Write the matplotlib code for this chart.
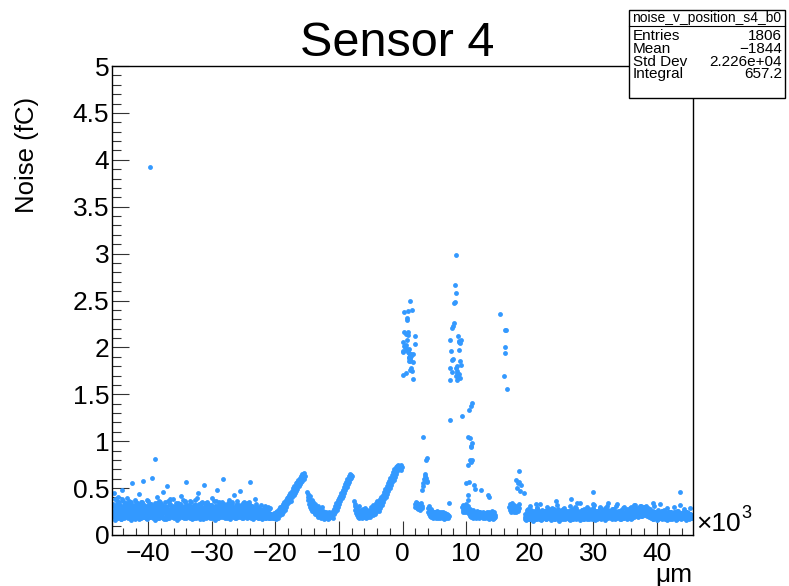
import numpy as np
import matplotlib
matplotlib.use('Agg')
import matplotlib.pyplot as plt
from matplotlib.ticker import MultipleLocator, FuncFormatter
from matplotlib.patches import Rectangle

plt.rcParams['font.family'] = ['Liberation Sans', 'DejaVu Sans']

# scan stretches: (start, end) in 10^3 um, noise in units of 0.01 fC
flat_left_range = (-45.6, -20.1)
flat_left = [33, 21, 45, 26, 16, 38, 24, 29, 22, 41, 18, 27, 35, 20, 31, 28, 17, 25, 48, 22, 36, 18, 26, 33, 21, 30, 39, 19, 22, 27,
             20, 36, 24, 16, 29, 32, 55, 26, 19, 23, 31, 21, 17, 28, 35, 34, 20, 27, 19, 44, 27, 23, 18, 30, 21, 34, 58, 22, 19, 24,
             29, 20, 25, 17, 37, 23, 31, 28, 19, 33, 22, 26, 61, 24, 18, 30, 31, 27, 22, 16, 25, 40, 21, 33, 18, 29, 20, 35, 24, 19,
             22, 27, 18, 46, 25, 30, 31, 23, 17, 28, 21, 52, 24, 18, 36, 33, 20, 22, 29, 19, 24, 38, 21, 18, 27, 23, 30, 20, 25, 16,
             34, 21, 26, 18, 23, 29, 20, 42, 24, 19, 37, 22, 18, 31, 25, 20, 57, 23, 19, 28, 32, 26, 36, 18, 24, 22, 30, 17, 27, 20,
             23, 18, 32, 25, 20, 28, 39, 19, 45, 24, 21, 27, 17, 33, 23, 20, 26, 19, 53, 22, 29, 34, 18, 21, 35, 26, 20, 23, 19, 30,
             25, 20, 32, 39, 18, 27, 24, 21, 16, 31, 23, 36, 20, 48, 22, 18, 29, 24, 31, 34, 19, 25, 22, 60, 20, 27, 33, 18, 32, 21,
             26, 19, 24, 22, 37, 20, 28, 17, 23, 30, 21, 35, 19, 43, 22, 27, 20, 24, 18, 33, 26, 21, 19, 29, 23, 47, 20, 32, 18, 25,
             28, 21, 19, 35, 24, 20, 26, 22, 18, 31, 25, 20, 33, 57, 19, 27, 22, 24, 17, 30, 21, 26, 20, 38, 23, 19, 25, 21, 18, 28,
             22, 20, 26, 19, 24, 21, 17, 27, 20, 23, 19, 25, 18, 22, 20, 24, 19, 21, 18, 23, 20, 19, 22, 18, 21, 20, 19, 23, 18, 20]

flat_left_b_range = (-45.5, -20.3)
flat_left_b = [24, 19, 30, 22, 27, 18, 33, 21, 25, 29, 20, 26, 17, 31, 23, 28, 19, 34, 22, 26, 20, 29, 18, 24, 32, 21, 27, 19, 23, 30,
               18, 25, 21, 28, 33, 19, 24, 22, 30, 17, 26, 23, 35, 20, 27, 19, 24, 31, 22, 18, 28, 25, 20, 33, 23, 19, 26, 29, 21, 24,
               30, 20, 23, 27, 19, 34, 22, 25, 18, 29, 21, 26, 32, 20, 24, 17, 28, 23, 30, 19, 25, 22, 36, 18, 27, 21, 24, 29, 20, 26,
               22, 28, 19, 25, 31, 21, 24, 18, 27, 23, 33, 20, 26, 19, 29, 22, 25, 35, 18, 24, 21, 28, 20, 31, 23, 19, 26, 22, 30, 18,
               27, 21, 25, 18, 32, 24, 20, 29, 23, 26, 19, 34, 22, 28, 17, 25, 21, 30, 24, 19, 27, 22, 33, 20, 26, 18, 29, 23, 21, 25,
               19, 26, 23, 30, 20, 24, 28, 18, 35, 22, 25, 21, 29, 19, 27, 24, 31, 20, 23, 18, 26, 32, 21, 24, 19, 28, 22, 25, 20, 30,
               24, 18, 29, 21, 26, 33, 20, 23, 27, 19, 25, 22, 30, 18, 24, 28, 21, 26, 20, 34, 23, 19, 27, 22, 25, 18, 31, 21, 24, 20,
               21, 25, 19, 28, 23, 20, 26, 22, 18, 24, 21, 27, 19, 23, 20, 25, 18, 22, 24, 19, 21, 23, 20, 18, 22, 19, 21, 20, 18, 19]

flat_left_c_range = (-45.4, -20.8)
flat_left_c = [31, 27, 36, 29, 33, 28, 38, 30, 26, 34, 29, 32, 27, 35, 30, 28, 37, 31, 26, 33, 29, 35, 28, 32, 27, 30, 36, 29, 33, 28,
               30, 34, 27, 31, 36, 28, 33, 29, 26, 35, 30, 27, 32, 38, 29, 31, 28, 34, 27, 30, 33, 26, 31, 29, 36, 28, 32, 27, 30, 35,
               28, 32, 37, 29, 26, 33, 30, 35, 27, 31, 28, 34, 29, 26, 32, 30, 36, 27, 31, 29, 33, 28, 35, 30, 27, 32, 29, 34, 28, 31,
               33, 29, 27, 31, 36, 28, 30, 26, 34, 29, 32, 27, 30, 35, 28, 31, 26, 29, 33, 27, 30, 28, 32, 26, 29, 31, 27, 30, 28, 29]

rise_a_range = (-20.0, -15.4)
rise_a = [21, 17, 24, 19, 26, 22, 18, 25, 23, 28, 21, 26, 30, 24, 27, 22, 31, 28, 25, 33, 29, 35, 27, 32, 37, 30, 34, 39, 33, 36,
          41, 35, 38, 43, 37, 45, 40, 36, 44, 47, 41, 46, 50, 43, 48, 52, 45, 50, 55, 47, 53, 57, 49, 55, 59, 52, 57, 61, 54, 60,
          63, 56, 62, 65, 58, 64, 61, 66, 60, 63]

dip_a_range = (-15.0, -11.3)
dip_a = [46, 41, 37, 44, 33, 39, 30, 42, 35, 28, 37, 26, 32, 29, 35, 24, 31, 27, 22, 33, 25, 29, 21, 27, 24, 31, 19, 26, 22, 28,
         20, 25, 18, 23, 30, 21, 19, 26, 17, 24, 20, 22, 18, 25, 19, 21, 23, 17, 20, 22, 18, 24, 19, 21, 20]

rise_b_range = (-11.2, -8.0)
rise_b = [19, 23, 21, 26, 18, 24, 28, 22, 27, 31, 25, 29, 34, 27, 32, 37, 30, 35, 39, 33, 38, 42, 36, 41, 45,
          39, 44, 48, 42, 47, 51, 45, 50, 54, 48, 53, 57, 51, 56, 60, 54, 59, 63, 57, 62, 65, 60, 64, 61, 63]

dip_b_range = (-7.6, -5.3)
dip_b = [36, 31, 27, 33, 23, 29, 25, 21, 28, 19, 24, 31, 22, 18, 26, 23, 20, 27, 21, 25,
         18, 23, 28, 22, 19, 26, 24, 20, 29, 21, 18, 25, 22, 27, 20, 24, 19, 23]

rise_c_range = (-5.2, -0.1)
rise_c = [22, 27, 19, 25, 30, 23, 28, 21, 26, 32, 24, 29, 22, 31, 27, 34, 25, 30, 36, 28, 33, 26, 35, 31, 38,
          29, 34, 40, 32, 37, 43, 35, 40, 46, 38, 43, 49, 41, 46, 52, 44, 49, 55, 47, 52, 58, 50, 55, 61, 53,
          58, 64, 56, 61, 67, 59, 64, 70, 62, 67, 72, 65, 70, 74, 68, 72, 75, 70, 73, 71, 74, 69, 72, 75, 73]

low_a_range = (1.95, 3.1)
low_a = [33, 30, 35, 31, 29, 34, 32, 30, 28, 33, 31, 29, 27, 32, 30, 34, 29, 31]

low_b_range = (4.0, 7.35)
low_b = [29, 25, 31, 22, 27, 20, 24, 28, 21, 19, 23, 26, 20, 22, 18, 25, 21, 19, 24, 20, 18, 22, 26, 19, 21, 23, 18, 20,
         24, 19, 22, 18, 21, 25, 19, 20, 23, 18, 21, 24, 17, 22, 19, 20, 23, 18, 21, 19, 22, 20, 18, 21, 19, 20, 34]

low_c_range = (9.4, 10.3)
low_c = [30, 27, 32, 25, 29, 31, 26, 28, 24, 30, 27, 33, 25, 29, 26, 31, 28]

low_d_range = (10.4, 14.6)
low_d = [26, 22, 28, 20, 24, 19, 25, 21, 23, 27, 18, 22, 20, 25, 19, 24, 21, 18, 23, 26, 20, 22, 19, 24, 18, 21, 25, 20, 23, 19,
         22, 18, 24, 20, 21, 19, 23, 18, 22, 20, 25, 19, 21, 18, 22, 17, 24, 20, 23, 18, 21, 26, 19, 22, 17, 20, 24, 18, 21, 19]

low_e_range = (16.8, 18.4)
low_e = [30, 27, 33, 25, 29, 31, 34, 26, 28, 32, 24, 30, 27, 29, 25, 31, 28, 26, 30, 27, 33, 29]

flat_right_range = (19.2, 45.6)
flat_right = [19, 17, 21, 18, 20, 17, 22, 19, 18, 21, 17, 20, 23, 18, 19, 17, 22, 20, 18, 24, 19, 17, 21, 18, 20, 27, 19, 22, 17, 20,
              18, 21, 19, 25, 17, 20, 22, 18, 19, 26, 21, 17, 20, 18, 23, 19, 28, 21, 18, 20, 17, 24, 19, 22, 18, 20, 27, 17, 21, 19,
              22, 18, 20, 17, 25, 19, 21, 18, 23, 20, 17, 22, 19, 28, 18, 21, 20, 17, 26, 19, 23, 18, 21, 20, 26, 17, 19, 22, 18, 20,
              17, 21, 24, 19, 18, 22, 20, 29, 17, 21, 19, 25, 18, 20, 22, 17, 19, 23, 21, 18, 27, 20, 17, 22, 19, 24, 18, 21, 20, 17,
              22, 19, 28, 22, 18, 21, 20, 25, 17, 23, 19, 28, 21, 18, 24, 20, 22, 17, 26, 19, 21, 23, 18, 20, 29, 22, 19, 24, 18, 21,
              20, 23, 29, 19, 22, 18, 25, 21, 27, 20, 24, 19, 22, 26, 18, 21, 23, 20, 28, 19, 22, 17, 24, 21, 20, 25, 18, 23, 19, 22,
              21, 18, 24, 20, 17, 22, 19, 25, 21, 18, 23, 20, 26, 19, 17, 22, 21, 24, 18, 20, 23, 19, 17, 21, 25, 18, 22, 20, 19, 23,
              24, 20, 27, 22, 25, 19, 28, 23, 21, 30, 26, 22, 31, 24, 20, 27, 23, 29, 21, 25, 31, 22, 26, 20, 24, 28, 19, 23, 21, 25,
              19, 22, 18, 24, 20, 17, 23, 21, 19, 25, 18, 22, 20, 24, 17, 21, 19, 23, 18, 22, 20, 26, 19, 21, 18, 24, 20, 17, 22, 19,
              21, 18, 23, 20, 25, 19, 22, 24, 18, 24, 21, 19, 23, 20, 18, 22, 25, 19, 21, 17, 24, 20, 22, 18, 23, 19, 21, 20, 22, 18,
              20, 23, 19, 22, 18, 21, 24, 20, 19, 22, 18, 23, 21, 19, 20, 22, 18, 21, 19, 20]

flat_right_b_range = (19.3, 45.5)
flat_right_b = [22, 16, 25, 19, 28, 17, 21, 24, 18, 27, 20, 15, 23, 26, 19, 22, 17, 29, 21, 18, 25, 20, 16, 24, 27, 19, 22, 18, 26, 21,
                17, 23, 20, 27, 18, 25, 22, 16, 29, 19, 24, 21, 17, 26, 20, 23, 18, 28, 22, 15, 25, 19, 21, 27, 17, 24, 20, 22, 18, 26,
                24, 18, 21, 26, 16, 23, 19, 28, 22, 17, 25, 20, 30, 18, 23, 21, 26, 19, 16, 24, 22, 27, 18, 20, 25, 17, 23, 19, 28, 21,
                19, 25, 17, 22, 27, 20, 24, 18, 29, 21, 16, 26, 23, 19, 25, 18, 22, 30, 20, 17, 24, 21, 27, 19, 23, 16, 26, 20, 22, 18,
                23, 19, 26, 21, 17, 28, 22, 25, 18, 24, 20, 31, 22, 26, 19, 23, 17, 27, 21, 24, 18, 29, 22, 20, 25, 19, 28, 23, 21, 26,
                27, 22, 30, 24, 20, 28, 25, 32, 21, 26, 23, 29, 22, 27, 24, 31, 20, 25, 28, 22, 26, 30, 23, 21, 27, 24, 29, 22, 25, 20,
                18, 24, 20, 26, 17, 22, 19, 25, 21, 16, 23, 27, 18, 21, 24, 19, 26, 17, 22, 20, 25, 18, 23, 16, 21, 24, 19, 22, 17, 20,
                21, 17, 23, 19, 25, 18, 22, 16, 24, 20, 26, 18, 21, 23, 17, 19, 25, 20, 22, 18, 24, 16, 21, 19, 23, 17, 20, 22, 18, 21]

flat_right_c_range = (19.6, 45.3)
flat_right_c = [27, 31, 25, 29, 33, 26, 30, 24, 28, 32, 26, 29, 25, 31, 27, 34, 24, 28, 30, 26, 32, 25, 29, 27, 31,
                24, 28, 33, 26, 30, 25, 29, 32, 27, 24, 30, 26, 28, 31, 25, 33, 27, 29, 24, 30, 26, 32, 28, 25, 29]

# individually read points (x in 10^3 um, noise in fC)
peak1_x = [0.2, 1.2, 0.9, 1.5, 0.7, 0.75, 0.3, 0.55, 0.9, 0.85, 1.9, 0.1, 0.75, 1.9, 0.3, 0.5, 0.7, 0.0, 0.1, 1.0, 1.2,
           1.4, 1.6, 1.0, 1.2, 1.05, 1.2, 1.6, 1.3, 1.2, 0.6, 0.05, 1.5, 1.6, 0.4, 0.6, 0.95, 1.1, 1.35, 0.8, 1.25]
peak1_y = [2.38, 2.49, 2.39, 2.40, 2.31, 2.29, 2.16, 2.14, 2.16, 2.13, 2.12, 2.06, 2.08, 2.04, 2.01, 2.03, 1.97, 1.96, 1.95, 1.94, 1.92,
           1.93, 1.93, 1.89, 1.89, 1.86, 1.87, 1.84, 1.78, 1.76, 1.73, 1.71, 1.75, 1.66, 2.00, 1.99, 1.98, 1.90, 1.91, 1.95, 1.85]

peak2_x = [8.35, 8.2, 8.35, 8.2, 8.05, 8.1, 7.95, 7.85, 7.45, 8.7, 8.95, 9.2, 9.1, 8.85, 7.65, 8.95, 7.8, 8.0,
           9.05, 9.25, 8.6, 8.45, 7.55, 7.8, 8.5, 8.85, 8.4, 8.8, 8.65, 7.5, 8.7, 9.0, 8.55]
peak2_y = [2.99, 2.67, 2.58, 2.48, 2.47, 2.26, 2.23, 2.21, 2.08, 2.12, 2.07, 2.08, 2.05, 2.06, 1.96, 1.97, 1.87, 1.88,
           1.85, 1.81, 1.80, 1.78, 1.78, 1.74, 1.73, 1.72, 1.69, 1.68, 1.65, 1.65, 1.70, 1.67, 1.75]

peak3_x = [15.3, 16.2, 16.3, 16.1, 16.05, 15.9, 16.4]
peak3_y = [2.36, 2.19, 2.19, 2.00, 1.94, 1.70, 1.56]

spike_x = [3.3, 3.7, 3.85, 3.2, 3.4, 3.5, 3.6, 3.8, 3.3, 3.55, 3.65, 3.1, 3.9,
           7.5, 9.35, 10.45, 10.7, 11.0, 10.3, 10.55, 11.0, 10.7, 10.8, 10.55, 10.8, 10.35, 10.95,
           10.0, 10.45, 10.3, 10.3, 11.3, 11.35, 12.4, 13.4, 13.6,
           18.3, 17.9, 18.1, 18.4, 18.6, 18.0, 18.5, 19.1]
spike_y = [1.04, 0.80, 0.82, 0.55, 0.60, 0.63, 0.58, 0.56, 0.52, 0.65, 0.61, 0.48, 0.58,
           1.23, 1.27, 1.33, 1.37, 1.41, 1.04, 1.03, 0.98, 0.95, 0.94, 0.80, 0.78, 0.75, 0.80,
           0.55, 0.57, 0.43, 0.37, 0.53, 0.49, 0.48, 0.43, 0.41,
           0.68, 0.59, 0.55, 0.57, 0.53, 0.50, 0.47, 0.45]

stray_x = [-39.7, -38.9, 21.0, 24.2, 26.5, 28.0, 29.9, 30.0, 32.3, 39.4, 43.7]
stray_y = [3.92, 0.81, 0.33, 0.36, 0.38, 0.34, 0.46, 0.33, 0.34, 0.34, 0.46]

stretches = [(flat_left_range, flat_left), (flat_left_b_range, flat_left_b), (flat_left_c_range, flat_left_c),
             (rise_a_range, rise_a), (dip_a_range, dip_a), (rise_b_range, rise_b),
             (dip_b_range, dip_b), (rise_c_range, rise_c), (low_a_range, low_a),
             (low_b_range, low_b), (low_c_range, low_c), (low_d_range, low_d),
             (low_e_range, low_e), (flat_right_range, flat_right), (flat_right_b_range, flat_right_b),
             (flat_right_c_range, flat_right_c)]

blue = '#3399ff'
W, H = 789, 586
fig = plt.figure(figsize=(W / 100, H / 100), dpi=100)
ax = fig.add_axes([112 / W, 1 - 535 / H, (693 - 112) / W, (535 - 66) / H])

mk = dict(ls='none', marker='o', ms=3.5, mew=0, color=blue)
for (x0, x1), vals in stretches:
    ax.plot(np.linspace(x0, x1, len(vals)), np.array(vals) / 100, **mk)
for xs, ys in [(peak1_x, peak1_y), (peak2_x, peak2_y), (peak3_x, peak3_y),
               (spike_x, spike_y), (stray_x, stray_y)]:
    ax.plot(xs, ys, **mk)

ax.set_xlim(-45.7, 45.7)
ax.set_ylim(0, 5)
ax.xaxis.set_major_locator(MultipleLocator(10))
ax.xaxis.set_minor_locator(MultipleLocator(2))
ax.yaxis.set_major_locator(MultipleLocator(0.5))
ax.yaxis.set_minor_locator(MultipleLocator(0.1))
ax.yaxis.set_major_formatter(FuncFormatter(lambda v, p: '%g' % v))
ax.tick_params(which='both', direction='in', top=False, right=False, width=0.8, color='#333333', labelsize=19)
ax.tick_params(axis='x', which='major', length=10, pad=5)
ax.tick_params(axis='x', which='minor', length=5)
ax.tick_params(axis='y', which='major', length=12.5, pad=2)
ax.tick_params(axis='y', which='minor', length=6.3)
for s in ax.spines.values():
    s.set_linewidth(1.0)

fig.text(397 / W, 1 - 44 / H, 'Sensor 4', fontsize=35, ha='center', va='center')
fig.text(27 / W, 1 - 155 / H, 'Noise (fC)', fontsize=18.5, rotation=90, ha='center', va='center')
fig.text(692 / W, 1 - 575 / H, 'μm', fontsize=19, ha='right', va='center')
fig.text(696 / W, 1 - 531 / H, '×10', fontsize=19, ha='left', va='baseline')
fig.text(741 / W, 1 - 518 / H, '3', fontsize=13, ha='left', va='baseline')

# stat box
fig.patches.append(Rectangle((629 / W, 1 - 98 / H), (785 - 629) / W, (98 - 10) / H,
                             transform=fig.transFigure, facecolor='white', edgecolor='black', lw=1, zorder=5))
fig.add_artist(plt.Line2D([629 / W, 785 / W], [1 - 26 / H, 1 - 26 / H], transform=fig.transFigure,
                          color='black', lw=0.8, zorder=6))
fig.text(707 / W, 1 - 18 / H, 'noise_v_position_s4_b0', fontsize=10, ha='center', va='center', zorder=7)
rows = [('Entries', '1806'), ('Mean', '\u22121844'), ('Std Dev', '2.226e+04'), ('Integral', '657.2')]
for i, (k, v) in enumerate(rows):
    yy = 1 - (36 + i * 12.8) / H
    fig.text(633 / W, yy, k, fontsize=11, ha='left', va='center', zorder=7)
    fig.text(782 / W, yy, v, fontsize=11, ha='right', va='center', zorder=7)

fig.savefig('out.png', dpi=100)
